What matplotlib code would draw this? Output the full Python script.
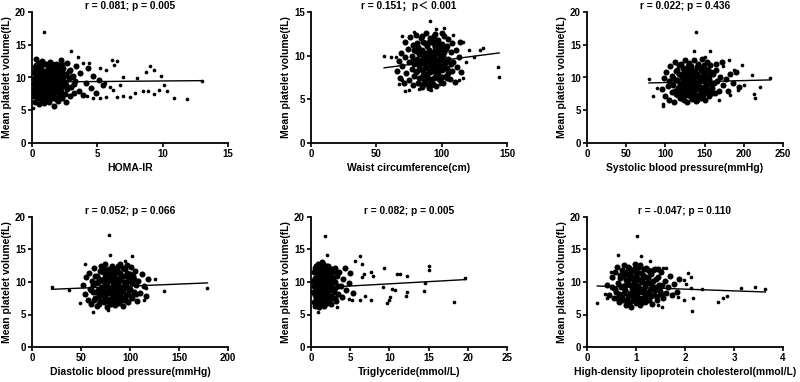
import numpy as np
import matplotlib
matplotlib.use("Agg")
import matplotlib.pyplot as plt

plt.rcParams['font.family'] = ['Liberation Sans', 'Noto Sans CJK SC', 'DejaVu Sans']
plt.rcParams['font.weight'] = 'bold'

# ---- data (x, MPV); dense cloud and sparse points ----
homa_core = [(0.1,7.2),(0.1,9.0),(0.1,10.8),(0.2,6.3),(0.2,8.2),(0.2,11.6),(0.3,7.6),(0.3,9.5),(0.3,10.3),(0.3,12.9),
    (0.4,6.8),(0.4,8.7),(0.4,11.1),(0.5,6.0),(0.5,7.9),(0.5,9.8),(0.5,12.2),(0.6,7.1),(0.6,9.2),(0.6,10.6),
    (0.7,6.5),(0.7,8.4),(0.7,10.1),(0.7,11.8),(0.8,7.5),(0.8,9.4),(0.8,12.5),(0.9,6.1),(0.9,8.0),(0.9,9.9),
    (0.9,11.0),(1.0,7.0),(1.0,8.8),(1.0,10.5),(1.1,6.6),(1.1,8.3),(1.1,9.6),(1.1,12.0),(1.2,7.4),(1.2,9.1),
    (1.2,11.3),(1.3,6.2),(1.3,8.5),(1.3,10.2),(1.3,11.7),(1.4,7.7),(1.4,9.3),(1.4,12.4),(1.5,6.9),(1.5,8.6),
    (1.5,10.7),(1.6,7.3),(1.6,9.7),(1.6,11.4),(1.7,5.6),(1.7,8.1),(1.7,10.0),(1.8,6.7),(1.8,8.9),(1.8,12.1),
    (1.9,7.8),(1.9,9.5),(1.9,11.0),(2.0,6.4),(2.0,8.4),(2.0,10.4),(2.1,7.2),(2.1,11.9),(2.2,8.0),(2.2,9.8),
    (2.2,12.6),(2.3,6.8),(2.3,10.9),(2.4,8.7),(2.4,11.5),(2.5,7.5),(2.5,9.3),(2.6,6.3),(2.6,10.6),(2.7,8.2),
    (2.7,12.2),(2.8,9.9),(2.9,7.1),(2.9,11.2),(3.0,8.5),(3.1,10.3),(3.2,7.6),(3.3,9.4),(3.4,11.8),(3.6,8.0),
    (3.7,10.7),(3.9,7.3),(4.1,9.1),(4.3,11.5),(4.5,8.4),(4.7,10.2),(4.9,7.7),(5.1,9.6),(5.4,8.9),
    (0.15,8.0),(0.25,9.9),(0.35,8.9),(0.45,10.2),(0.55,7.3),(0.65,8.3),(0.75,9.0),(0.85,10.9),(0.95,7.7),(1.05,9.3),
    (1.15,10.8),(1.25,8.0),(1.35,9.8),(1.45,10.6),(1.55,7.6),(1.65,8.5),(1.75,9.2),(1.85,10.4),(1.95,8.0),(2.05,9.2),
    (2.15,10.0),(2.25,7.5),(2.35,9.5),(2.45,10.2),(0.2,9.7),(0.4,7.4),(0.6,11.3),(0.8,10.8),(1.0,9.6),(1.2,7.9),
    (1.4,11.0),(1.6,8.4),(1.8,10.0),(2.0,11.3),(2.2,8.9),(0.3,11.9),(0.5,10.9),(0.7,7.0),(0.9,12.1),(1.1,10.4),
    (1.3,7.2),(1.5,12.0),(1.7,11.8),(1.9,6.9),(2.1,8.6),(2.3,12.0),(2.6,8.9),(2.8,11.0),(3.0,10.1),(3.2,9.0)]
homa_out = [(0.9,17.0),(3.0,14.1),(3.5,13.1),(6.1,12.6),(6.5,12.5),(6.3,11.9),(9.0,11.8),(9.3,11.2),(9.9,10.3),(8.7,10.8),
    (8.0,9.9),(7.0,10.0),(10.1,8.9),(10.3,8.0),(9.7,8.1),(8.5,8.0),(8.9,7.9),(9.3,7.5),(10.9,6.9),(11.9,6.7),
    (7.9,7.6),(7.5,7.0),(7.0,7.1),(6.5,7.0),(5.7,7.0),(5.2,6.9),(4.7,6.9),(4.2,7.1),(6.0,8.6),(6.2,8.1),
    (6.7,8.9),(5.6,9.2),(5.7,11.2),(5.2,11.4),(4.4,12.2),(3.9,12.2),(0.1,5.3),(13.0,9.4)]

waist_core = [(66,8.2),(67,9.4),(68,7.4),(69,10.3),(70,8.8),(71,6.9),(72,9.9),(72,11.6),(73,8.0),(74,10.8),
    (75,7.2),(75,9.3),(76,12.1),(77,8.5),(77,10.0),(78,6.6),(78,11.2),(79,9.0),(79,7.7),(80,10.5),
    (80,12.4),(81,8.2),(81,9.6),(82,6.9),(82,11.0),(83,8.8),(83,10.2),(84,7.4),(84,9.2),(84,12.0),
    (85,6.4),(85,8.4),(85,10.7),(86,9.8),(86,7.8),(86,11.6),(87,8.9),(87,10.3),(88,6.7),(88,9.4),
    (88,12.6),(89,7.5),(89,8.6),(89,11.1),(90,9.9),(90,10.7),(90,6.3),(91,8.1),(91,9.2),(91,12.0),
    (92,7.1),(92,10.4),(92,8.7),(93,9.6),(93,11.5),(93,6.8),(94,8.3),(94,10.0),(94,12.3),(95,7.6),
    (95,9.1),(95,11.0),(96,8.6),(96,10.5),(96,6.5),(97,9.5),(97,7.9),(97,11.8),(98,8.9),(98,10.2),
    (99,7.2),(99,9.7),(100,8.4),(100,11.3),(101,6.9),(101,10.0),(102,9.0),(102,12.2),(103,7.7),(103,10.8),
    (104,8.6),(105,9.6),(105,11.9),(106,7.3),(107,10.4),(108,8.2),(108,11.4),(109,9.3),(110,7.0),(111,10.6),
    (112,8.7),(113,9.9),(114,11.6),(115,8.1),
    (78,9.5),(79,10.6),(80,8.1),(81,11.4),(82,9.3),(83,7.4),(84,10.5),(85,9.5),(86,8.4),(87,11.5),
    (87,7.1),(88,10.0),(89,9.9),(89,7.9),(90,8.5),(90,11.6),(91,10.4),(91,7.3),(92,9.3),(92,11.8),
    (93,8.2),(93,10.3),(94,7.4),(94,9.1),(95,10.5),(95,8.2),(96,11.7),(96,9.5),(97,8.6),(97,10.6),
    (98,7.3),(98,11.3),(99,8.5),(99,10.8),(100,9.5),(100,7.5),(101,11.1),(101,8.5),(102,10.4),(103,9.3),
    (104,11.1),(104,7.4),(85,12.3),(88,7.8),(92,6.6),(95,12.5),(100,12.6),(86,6.8),(105,8.0),(107,9.0)]
waist_out = [(91,14.0),(102,13.2),(96,13.0),(109,12.4),(116,11.6),(132,10.9),(129,10.6),(121,10.7),(125,9.9),(119,9.3),
    (143,8.7),(144,7.6),(56,10.0),(61,9.9),(65,9.8),(70,7.2),(67,6.7),(72,5.9),(75,6.1),(70,12.3),
    (79,12.7),(116,7.4),(113,7.2),(99,6.7),(92,6.1),(83,6.2)]

sbp_core = [(96,8.3),(98,9.9),(100,7.2),(101,10.9),(103,8.7),(104,6.6),(105,9.4),(106,11.8),(108,7.8),(109,10.2),
    (110,8.9),(111,6.3),(112,12.4),(113,9.6),(114,7.5),(115,11.1),(116,8.4),(117,10.5),(118,6.9),(119,9.1),
    (120,12.0),(120,7.9),(121,10.0),(122,8.6),(123,11.5),(124,6.5),(124,9.5),(125,12.7),(126,7.4),(126,10.7),
    (127,8.9),(128,11.2),(128,6.2),(129,9.8),(130,8.1),(130,12.2),(131,10.4),(132,7.1),(132,9.2),(133,11.7),
    (134,8.5),(134,6.7),(135,10.1),(136,12.6),(136,7.7),(137,9.6),(138,11.0),(138,8.3),(139,6.4),(140,10.6),
    (140,9.0),(141,12.1),(142,7.4),(143,10.0),(143,8.7),(144,11.6),(145,6.9),(146,9.4),(147,12.8),(147,7.9),
    (148,10.8),(149,8.5),(150,11.3),(151,6.6),(152,9.7),(153,12.3),(154,8.1),(155,10.3),(156,7.2),(157,11.9),
    (158,9.1),(160,8.4),(161,10.6),(163,7.6),(165,11.2),(166,9.5),(168,8.0),(170,10.1),(172,12.3),(174,8.8),
    (177,9.8),(180,7.9),(183,10.5),(186,9.2),(190,10.9),(194,8.6),
    (110,9.9),(112,8.0),(113,11.0),(115,9.6),(116,7.3),(117,11.9),(118,8.9),(120,10.4),(121,7.5),(122,9.7),
    (123,8.1),(124,11.0),(125,9.0),(126,8.3),(127,10.2),(128,7.6),(129,11.8),(130,9.5),(131,7.6),(132,10.9),
    (133,8.8),(134,11.2),(135,7.9),(136,9.4),(137,10.6),(138,7.2),(139,9.2),(140,11.6),(141,8.3),(142,10.3),
    (143,7.4),(144,9.6),(145,11.1),(146,8.1),(147,10.1),(148,7.3),(149,11.9),(150,9.3),(151,10.5),(152,7.8),
    (153,8.9),(154,11.2),(155,7.6),(156,9.8),(158,10.9),(160,7.6),(162,9.2),(164,12.0),(120,6.8),(140,6.6)]
sbp_out = [(139,17.0),(137,14.1),(157,14.0),(151,13.1),(181,12.7),(198,11.9),(174,11.7),(187,11.2),(211,10.4),(234,9.9),
    (79,9.8),(89,8.4),(84,7.1),(97,5.6),(97,5.9),(221,8.6),(214,6.9),(213,7.5),(200,8.8),(192,8.1),
    (183,7.4),(168,6.6)]

dbp_core = [(52,9.6),(54,8.2),(55,10.7),(57,7.3),(58,11.4),(59,9.0),(60,6.6),(61,10.2),(62,8.4),(63,12.1),
    (64,7.6),(65,9.8),(66,11.0),(66,6.3),(67,8.8),(68,10.5),(69,7.1),(70,12.4),(70,9.3),(71,8.0),
    (72,11.6),(73,6.9),(73,10.0),(74,8.6),(75,12.7),(75,7.5),(76,9.6),(77,11.2),(77,6.2),(78,8.3),
    (78,10.4),(79,12.0),(79,7.0),(80,9.1),(80,11.7),(81,8.7),(81,6.6),(82,10.1),(82,12.5),(83,7.8),
    (83,9.5),(84,11.1),(85,8.1),(85,6.4),(86,10.6),(86,9.0),(87,12.2),(87,7.3),(88,9.8),(88,11.5),
    (89,8.4),(89,6.8),(90,10.3),(90,12.8),(91,7.7),(91,9.2),(92,11.0),(93,8.6),(93,6.3),(94,10.0),
    (95,12.0),(95,7.4),(96,9.5),(97,11.4),(98,8.2),(98,6.9),(99,10.6),(100,9.0),(101,12.3),(102,7.6),
    (103,10.9),(104,8.5),(105,11.7),(106,9.6),(107,7.1),(108,10.2),(110,8.3),(112,11.3),(114,9.4),(116,7.9),
    (118,10.4),
    (62,9.5),(63,7.3),(64,10.9),(65,8.5),(67,10.0),(68,7.8),(69,11.7),(70,8.4),(71,10.3),(72,9.0),
    (73,12.0),(74,7.4),(75,10.8),(76,8.1),(77,9.8),(78,11.8),(79,8.9),(80,10.4),(80,7.4),(81,11.2),
    (82,8.2),(83,10.8),(84,9.6),(84,7.2),(85,11.9),(86,8.5),(87,10.1),(88,7.5),(88,12.4),(89,9.3),
    (90,11.4),(90,8.0),(91,10.7),(92,8.9),(93,12.1),(93,7.2),(94,9.1),(95,10.9),(96,8.0),(97,7.1),
    (97,12.6),(98,10.1),(99,8.7),(100,11.2),(101,7.9),(102,9.9),(104,10.4),(106,8.1),(60,8.8),(68,6.6)]
dbp_out = [(79,17.2),(80,14.2),(102,14.0),(54,12.7),(95,13.2),(20,9.2),(38,8.7),(135,8.6),(179,9.1),(125,10.5),
    (116,9.1),(49,6.8),(62,5.4),(78,5.7),(98,6.7),(114,7.2)]

tg_core = [(0.3,8.4),(0.3,10.1),(0.4,7.0),(0.4,11.6),(0.5,9.2),(0.5,6.3),(0.5,12.2),(0.6,8.0),(0.6,10.6),(0.7,7.4),
    (0.7,9.6),(0.7,11.9),(0.8,6.6),(0.8,8.8),(0.8,10.9),(0.9,7.8),(0.9,12.7),(0.9,9.9),(1.0,6.1),(1.0,8.4),
    (1.0,11.3),(1.1,7.2),(1.1,9.3),(1.1,12.4),(1.2,8.1),(1.2,10.4),(1.2,6.5),(1.3,9.0),(1.3,11.8),(1.3,7.6),
    (1.4,10.0),(1.4,8.6),(1.4,13.1),(1.5,6.8),(1.5,9.5),(1.5,11.1),(1.6,7.9),(1.6,12.2),(1.6,10.3),(1.7,8.9),
    (1.7,6.3),(1.8,11.6),(1.8,7.4),(1.9,9.8),(1.9,12.5),(2.0,8.3),(2.0,10.8),(2.1,6.9),(2.1,9.2),(2.2,11.9),
    (2.2,7.8),(2.3,10.2),(2.4,8.7),(2.4,12.0),(2.5,6.6),(2.5,9.6),(2.6,11.2),(2.7,7.5),(2.8,10.6),(2.9,8.4),
    (3.0,12.1),(3.1,9.1),(3.2,7.1),(3.3,10.9),(3.5,8.1),(3.6,11.5),(3.8,9.4),(3.9,7.7),(4.1,10.4),(4.3,12.1),
    (4.5,8.8),(4.8,9.9),(5.0,11.4),(5.3,8.3),
    (0.4,9.4),(0.5,10.6),(0.6,7.1),(0.6,9.2),(0.7,10.5),(0.8,7.8),(0.8,12.0),(0.9,9.0),(0.9,6.9),(1.0,10.0),
    (1.0,12.5),(1.1,8.0),(1.1,11.0),(1.2,9.5),(1.2,7.3),(1.3,10.6),(1.3,8.4),(1.4,11.8),(1.4,7.0),(1.5,10.2),
    (1.5,8.1),(1.6,9.0),(1.6,11.2),(1.7,7.6),(1.7,10.4),(1.8,8.6),(1.8,12.4),(1.9,7.3),(1.9,11.0),(2.0,9.5),
    (2.0,6.7),(2.1,10.7),(2.2,8.8),(2.2,12.5),(2.3,7.2),(2.3,11.2),(2.4,9.6),(2.5,7.9),(2.6,10.0),(2.7,12.0),
    (2.8,8.9),(3.0,10.0),(3.2,11.6),(3.4,9.4),(0.5,8.0),(0.7,12.4),(1.0,6.9),(1.5,12.7),(2.5,11.0),(3.0,7.6)]
tg_out = [(1.8,17.1),(2.1,14.2),(6.2,14.0),(5.6,13.3),(6.5,12.7),(9.3,12.2),(15.1,12.4),(15.1,11.9),(11.4,11.2),(11.0,11.2),
    (12.2,10.9),(19.7,10.6),(14.6,9.9),(6.7,11.3),(7.7,11.5),(7.9,10.9),(6.5,10.7),(9.2,9.2),(10.3,9.0),(10.7,8.8),
    (14.4,8.6),(12.3,8.5),(12.1,7.8),(10.1,7.7),(10.0,7.2),(9.7,6.8),(18.3,6.9),(7.7,7.3),(6.9,7.9),(6.2,7.3),
    (5.2,7.2),(4.8,7.4),(3.3,6.1),(0.9,5.4)]

hdl_core = [(0.50,9.2),(0.52,10.8),(0.55,7.6),(0.58,11.6),(0.60,8.5),(0.62,12.3),(0.64,9.9),(0.66,6.9),(0.68,10.6),(0.70,8.0),
    (0.71,11.9),(0.73,7.2),(0.74,9.4),(0.76,12.6),(0.77,8.7),(0.79,10.3),(0.80,6.5),(0.81,11.3),(0.83,7.8),(0.84,9.7),
    (0.86,12.1),(0.87,8.3),(0.88,10.9),(0.90,6.2),(0.91,9.1),(0.92,11.7),(0.94,7.5),(0.95,10.2),(0.96,8.8),(0.97,12.8),
    (0.99,6.8),(1.00,9.6),(1.01,11.0),(1.02,8.1),(1.04,10.5),(1.05,7.1),(1.06,12.3),(1.08,9.0),(1.09,6.4),(1.10,11.4),
    (1.12,8.4),(1.13,10.0),(1.15,7.6),(1.16,12.0),(1.18,9.4),(1.19,6.9),(1.21,10.8),(1.22,8.2),(1.24,11.8),(1.26,7.3),
    (1.27,9.8),(1.29,8.7),(1.31,11.2),(1.33,6.6),(1.35,10.2),(1.37,8.0),(1.39,12.0),(1.41,9.2),(1.43,7.2),(1.45,10.7),
    (1.48,8.6),(1.50,11.6),(1.53,9.6),(1.56,7.5),(1.59,10.1),(1.62,8.3),(1.66,9.3),(1.70,11.0),(1.74,8.0),(1.78,9.7),
    (1.83,8.5),(1.88,10.4),(0.45,8.0),(0.40,9.6),
    (0.65,8.2),(0.67,11.1),(0.69,9.3),(0.72,7.6),(0.74,10.9),(0.76,8.3),(0.78,11.5),(0.80,9.5),(0.82,7.3),(0.84,12.3),
    (0.85,10.4),(0.87,7.0),(0.89,9.6),(0.90,11.6),(0.92,8.1),(0.93,10.6),(0.95,7.3),(0.96,12.0),(0.98,9.0),(0.99,10.9),
    (1.00,7.8),(1.01,8.6),(1.03,11.6),(1.04,9.4),(1.06,7.6),(1.07,10.3),(1.09,12.6),(1.10,8.6),(1.12,10.4),(1.13,7.0),
    (1.15,11.1),(1.16,9.0),(1.18,8.0),(1.20,12.2),(1.21,9.9),(1.23,7.2),(1.25,10.6),(1.27,8.5),(1.29,11.5),(1.31,7.8),
    (1.33,9.4),(1.35,11.9),(1.38,8.8),(1.40,10.5),(1.42,7.9),(1.45,12.0),(1.47,9.6),(1.52,8.1),(0.58,8.9),(0.62,7.5)]
hdl_out = [(1.02,17.1),(0.63,14.2),(1.10,14.0),(1.28,13.3),(1.56,12.2),(1.62,12.2),(2.07,11.4),(2.12,10.7),(1.97,10.3),(2.02,9.7),
    (2.12,9.1),(2.34,8.9),(2.17,7.6),(2.15,5.5),(1.98,7.2),(3.43,9.3),(3.64,8.9),(3.15,9.1),(2.85,7.8),(2.77,7.6),
    (2.68,6.9),(0.21,6.8),(0.48,11.6),(0.53,10.6),(0.36,8.1),(0.41,7.6),(1.54,6.1),(1.45,6.4),(1.86,7.7),(1.76,8.2)]

# fitted lines: intercept, slope
fits = [(9.30, 0.017), (7.52, 0.0194), (8.93, 0.003), (8.75, 0.0062), (9.05, 0.067), (9.44, -0.268)]

titles = ["r = 0.081; p = 0.005", "r = 0.151\uff1bp\uff1c 0.001", "r = 0.022; p = 0.436",
          "r = 0.052; p = 0.066", "r = 0.082; p = 0.005", "r = -0.047; p = 0.110"]
xlabels = ["HOMA-IR", "Waist circumference(cm)", "Systolic blood pressure(mmHg)",
           "Diastolic blood pressure(mmHg)", "Triglyceride(mmol/L)",
           "High-density lipoprotein cholesterol(mmol/L)"]
xlims = [(0, 15), (0, 150), (0, 250), (0, 200), (0, 25), (0, 4)]
xticks = [[0, 5, 10, 15], [0, 50, 100, 150], [0, 50, 100, 150, 200, 250],
          [0, 50, 100, 150, 200], [0, 5, 10, 15, 20, 25], [0, 1, 2, 3, 4]]
ylims = [20, 15, 20, 20, 20, 20]
cores = [homa_core, waist_core, sbp_core, dbp_core, tg_core, hdl_core]
outs = [homa_out, waist_out, sbp_out, dbp_out, tg_out, hdl_out]

fig = plt.figure(figsize=(8, 3.82), dpi=100)
lefts = [32, 311, 587]
W, H = 800, 382
for i in range(6):
    row, col = divmod(i, 3)
    top_px = 12 if row == 0 else 217
    bot_px = 143 if row == 0 else 347
    ax = fig.add_axes([lefts[col] / W, (H - bot_px) / H, 196 / W, (bot_px - top_px) / H])
    core = np.array(cores[i])
    out = np.array(outs[i])
    ax.scatter(core[:, 0], core[:, 1], s=19, c='black', linewidths=0, zorder=2)
    ax.scatter(out[:, 0], out[:, 1], s=7, c='black', linewidths=0, zorder=2)
    allx = np.concatenate([core[:, 0], out[:, 0]])
    b0, b1 = fits[i]
    xx = np.array([allx.min(), allx.max()])
    ax.plot(xx, b0 + b1 * xx, color='black', lw=1.0, zorder=3)
    ax.set_xlim(*xlims[i])
    ax.set_ylim(0, ylims[i])
    ax.set_xticks(xticks[i])
    ax.set_yticks(np.arange(0, ylims[i] + 1, 5))
    for s in ['top', 'right']:
        ax.spines[s].set_visible(False)
    for s in ['left', 'bottom']:
        ax.spines[s].set_linewidth(1.3)
    ax.tick_params(width=1.2, length=3, labelsize=7, pad=1.5)
    ax.set_title(titles[i], fontsize=7.3, fontweight='bold', pad=2)
    ax.set_xlabel(xlabels[i], fontsize=7.5, fontweight='bold', labelpad=3)
    ax.set_ylabel("Mean platelet volume(fL)", fontsize=7.5, fontweight='bold', labelpad=2)

fig.savefig("out.png", dpi=100)
